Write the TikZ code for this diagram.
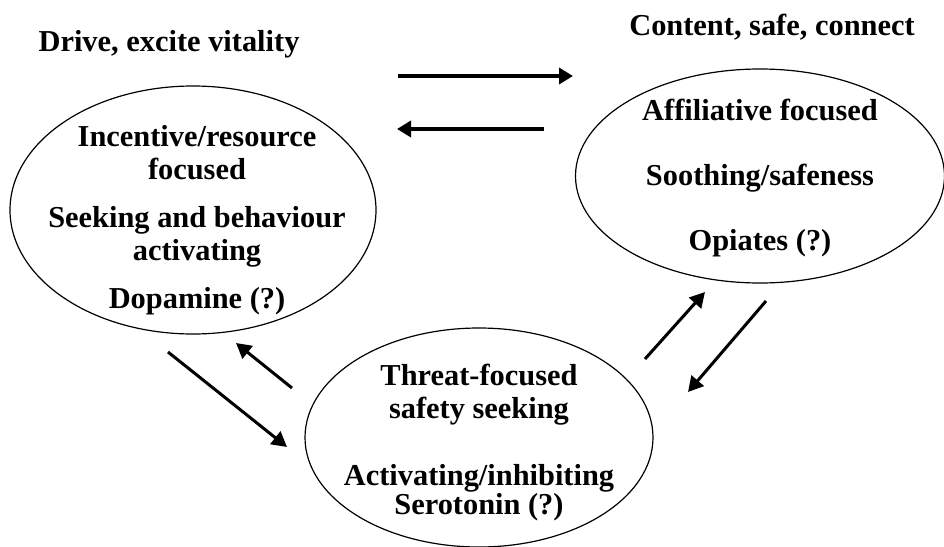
\documentclass[tikz,border=0pt]{standalone}
\usepackage{fontspec}
\setmainfont{Liberation Serif}
\usetikzlibrary{shapes.geometric,arrows.meta}

\begin{document}
\begin{tikzpicture}[x=0.5pt, y=-0.5pt,
  sistema/.style={ellipse, draw, line width=0.6pt, inner sep=0pt},
  etiq/.style={font=\fontsize{15.2}{16.5}\selectfont\bfseries, align=center,
    inner sep=0pt},
  flecha/.style={line width=1.5pt, -{Triangle[length=7.5pt,width=8pt]}},
  flechag/.style={line width=2pt, -{Triangle[length=7pt,width=8pt]}},
]
\useasboundingbox (0,0) rectangle (944,547);

% the three systems
\node[sistema, minimum width=183pt, minimum height=124pt] (impulso) at (193,210) {};
\node[sistema, minimum width=184.5pt, minimum height=107pt] (calma) at (760,176) {};
\node[sistema, minimum width=174pt, minimum height=109.5pt] (amenaza) at (479,437.5) {};

\node[etiq] (tituloImpulso) at (169,44) {Drive, excite vitality};
\node[etiq] (tituloCalma) at (772,27) {Content, safe, connect};

\node[etiq] (textoImpulso) at (197,220) {Incentive/resource\\ focused\\[7.5pt]
  Seeking and behaviour\\ activating\\[7.5pt] Dopamine (?)};
\node[etiq] (textoCalma) at (760,178.5) {Affiliative focused\\[16pt]
  Soothing/safeness\\[16pt] Opiates (?)};
\node[etiq] (textoAmenaza) at (479,443) {Threat-focused\\ safety seeking\\[17pt]
  Activating/inhibiting\\[-2pt] Serotonin (?)};

% arrow ends
\coordinate (a1) at (398,76);  \coordinate (b1) at (573,76);
\coordinate (a2) at (544,129); \coordinate (b2) at (397,129);
\coordinate (a3) at (168,352); \coordinate (b3) at (287,447);
\coordinate (a4) at (292,388); \coordinate (b4) at (236,343);
\coordinate (a5) at (645,359); \coordinate (b5) at (705,292);
\coordinate (a6) at (766,301); \coordinate (b6) at (688,392);

\draw[flechag] (a1) -- (b1);
\draw[flechag] (a2) -- (b2);
\draw[flecha] (a3) -- (b3);
\draw[flecha] (a4) -- (b4);
\draw[flecha] (a5) -- (b5);
\draw[flecha] (a6) -- (b6);
\end{tikzpicture}
\end{document}
